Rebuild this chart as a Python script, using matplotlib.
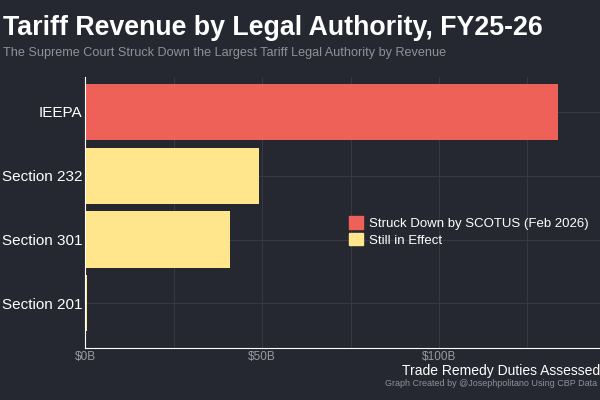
import matplotlib.pyplot as plt
from matplotlib.patches import Patch

plt.rcParams['font.family'] = ['Liberation Sans', 'DejaVu Sans']

authorities = ["IEEPA", "Section 232", "Section 301", "Section 201"]
revenue_b = [133.5, 49.0, 41.0, 0.6]
struck_down = [True, False, False, False]

BG = "#252830"
RED = "#ee6159"
YELLOW = "#ffe68c"

fig = plt.figure(figsize=(6, 4), dpi=100, facecolor=BG)
ax = fig.add_axes([0.142, 0.13, 0.858, 0.678], facecolor=BG)

ypos = list(range(len(authorities)))[::-1]
colors = [RED if s else YELLOW for s in struck_down]
ax.barh(ypos, revenue_b, height=0.88, color=colors)

ax.set_xlim(0, 145.5)
ax.set_ylim(-0.7, 3.55)
ax.set_yticks(ypos)
ax.set_yticklabels(authorities, color="white", fontsize=11)
ax.set_xticks([0, 50, 100])
ax.set_xticklabels(["$0B", "$50B", "$100B"], color="#9a9ca3", fontsize=8.5)
ax.set_xticks([25, 75, 125], minor=True)
ax.tick_params(length=0, which="both", pad=2)
ax.grid(True, which="both", color="#3a3d45", linewidth=0.6)
ax.set_axisbelow(True)
for s in ["top", "right"]:
    ax.spines[s].set_visible(False)
ax.spines["left"].set_color("white")
ax.spines["bottom"].set_color("white")

ax.set_xlabel("Trade Remedy Duties Assessed", color="white", fontsize=10,
              loc="right", labelpad=1)

handles = [Patch(color=RED, label="Struck Down by SCOTUS (Feb 2026)"),
           Patch(color=YELLOW, label="Still in Effect")]
ax.legend(handles=handles, loc="center right", bbox_to_anchor=(1.0, 0.43),
          frameon=False, fontsize=9.5, labelcolor="white",
          handlelength=1.1, handleheight=1.1, handletextpad=0.4,
          labelspacing=0.2)

fig.text(0.005, 0.912, "Tariff Revenue by Legal Authority, FY25-26",
         color="white", fontsize=19.3, fontweight="bold")
fig.text(0.005, 0.86, "The Supreme Court Struck Down the Largest Tariff Legal Authority by Revenue",
         color="#8f9198", fontsize=9.1)
fig.text(0.995, 0.035, "Graph Created by @Josephpolitano Using CBP Data",
         color="#8f9198", fontsize=6.5, ha="right")

fig.savefig("out.png", facecolor=BG)
